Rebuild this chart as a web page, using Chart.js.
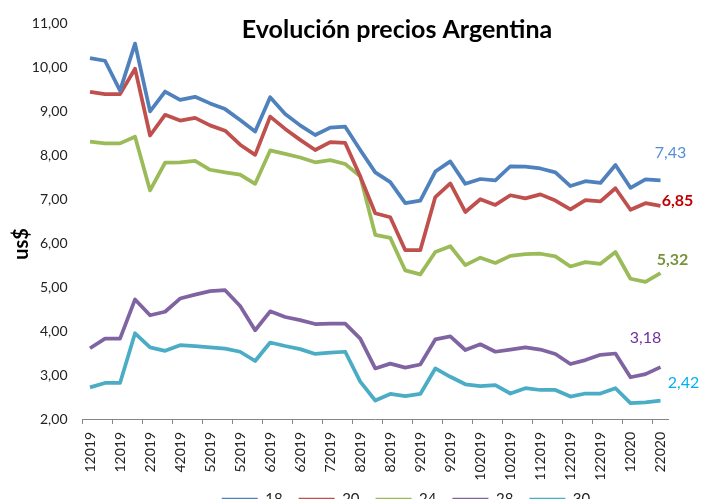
<!DOCTYPE html>
<html>
<head>
<meta charset="utf-8">
<script src="https://cdn.jsdelivr.net/npm/chart.js@4.4.1/dist/chart.umd.min.js"></script>
<style>
  html, body { margin: 0; padding: 0; background: #fff; overflow: hidden; }
  #wrap { position: relative; width: 701px; height: 522px; }
</style>
</head>
<body>
<div id="wrap"><canvas id="chart"></canvas></div>
<script>
// Category labels (only every second one is shown on the axis)
const periods = [
  '12019', '12019', '12019', '22019', '22019', '32019', '42019', '42019',
  '52019', '52019', '52019', '62019', '62019', '62019', '62019', '72019',
  '72019', '72019', '82019', '82019', '82019', '92019', '92019', '92019',
  '92019', '102019', '102019', '102019', '102019', '112019', '112019', '112019',
  '122019', '122019', '122019', '12020', '12020', '12020', '22020'
];

const seriesNames = ['18', '20', '24', '28', '30'];

const values18 = [10.21, 10.15, 9.47, 10.54, 9.00, 9.45, 9.26, 9.33, 9.18, 9.05, 8.80, 8.54, 9.32, 8.94, 8.68, 8.46, 8.63, 8.65, 8.12,
  7.61, 7.39, 6.91, 6.97, 7.63, 7.86, 7.35, 7.46, 7.43, 7.75, 7.74, 7.70, 7.61, 7.30, 7.41, 7.37, 7.78, 7.26, 7.45, 7.43];
const values20 = [9.44, 9.39, 9.39, 9.97, 8.45, 8.92, 8.79, 8.85, 8.68, 8.56, 8.24, 8.01, 8.88, 8.60, 8.35, 8.12, 8.30, 8.28, 7.52,
  6.68, 6.59, 5.84, 5.84, 7.05, 7.36, 6.71, 7.00, 6.87, 7.09, 7.02, 7.11, 6.97, 6.77, 6.98, 6.95, 7.25, 6.76, 6.91, 6.85];
const values24 = [8.31, 8.27, 8.27, 8.42, 7.20, 7.83, 7.84, 7.87, 7.67, 7.61, 7.56, 7.35, 8.11, 8.03, 7.95, 7.84, 7.89, 7.80, 7.52,
  6.19, 6.12, 5.38, 5.29, 5.80, 5.93, 5.50, 5.67, 5.55, 5.71, 5.75, 5.76, 5.70, 5.47, 5.57, 5.53, 5.80, 5.19, 5.12, 5.32];
const values28 = [3.61, 3.83, 3.83, 4.72, 4.36, 4.44, 4.74, 4.83, 4.91, 4.93, 4.57, 4.02, 4.45, 4.32, 4.25, 4.16, 4.17, 4.17, 3.83,
  3.15, 3.26, 3.17, 3.24, 3.81, 3.88, 3.57, 3.70, 3.53, 3.58, 3.63, 3.58, 3.48, 3.25, 3.34, 3.46, 3.49, 2.95, 3.02, 3.18];
const values30 = [2.72, 2.82, 2.82, 3.95, 3.63, 3.55, 3.68, 3.66, 3.63, 3.60, 3.53, 3.32, 3.74, 3.66, 3.59, 3.48, 3.51, 3.53, 2.85,
  2.42, 2.57, 2.52, 2.57, 3.15, 2.96, 2.79, 2.75, 2.77, 2.58, 2.70, 2.66, 2.66, 2.51, 2.58, 2.58, 2.70, 2.36, 2.38, 2.42];

const yTicks = [2, 3, 4, 5, 6, 7, 8, 9, 10, 11];

// Styling
const lineColors = ['#4F81BD', '#C0504D', '#9BBB59', '#8064A2', '#4BACC6'];
const endLabelStyles = [
  { color: '#558ED5', bold: false, dx: 10, dy: -27 },
  { color: '#C00000', bold: true, dx: 17, dy: -5 },
  { color: '#77933C', bold: true, dx: 12, dy: -13 },
  { color: '#7030A0', bold: false, dx: -15, dy: -29 },
  { color: '#00B0F0', bold: false, dx: 23, dy: -18 }
];
const FONT = 'Lato, "Open Sans", sans-serif';
// legend sits right of centre and tucked under the axis labels in the original
const LEGEND_SHIFT_X = 72;
const LEGEND_SHIFT_Y = -5;

const allValues = [values18, values20, values24, values28, values30];

function fmt(v) {
  return v.toFixed(2).replace('.', ',');
}

// Draws the title, the y axis title and the last-value labels
const extraText = {
  id: 'extraText',
  afterLayout(chart) {
    const lg = chart.legend;
    if (lg) {
      lg.left += LEGEND_SHIFT_X;
      lg.right += LEGEND_SHIFT_X;
      lg.top += LEGEND_SHIFT_Y;
      lg.bottom += LEGEND_SHIFT_Y;
    }
  },
  afterDatasetsDraw(chart) {
    const ctx = chart.ctx;
    ctx.save();
    ctx.fillStyle = '#000';
    ctx.font = 'bold 25px ' + FONT;
    ctx.textAlign = 'center';
    ctx.textBaseline = 'middle';
    ctx.fillText('Evolución precios Argentina', 397, 30);

    ctx.save();
    ctx.translate(22, 244);
    ctx.rotate(-Math.PI / 2);
    ctx.font = 'bold 20px ' + FONT;
    ctx.fillText('us$', 0, 0);
    ctx.restore();

    chart.data.datasets.forEach((ds, i) => {
      const meta = chart.getDatasetMeta(i);
      const last = meta.data[meta.data.length - 1];
      const st = endLabelStyles[i];
      ctx.fillStyle = st.color;
      ctx.font = (st.bold ? 'bold ' : '') + '16px ' + FONT;
      ctx.fillText(fmt(ds.data[ds.data.length - 1]), last.x + st.dx, last.y + st.dy);
    });
    ctx.restore();
  }
};

const datasets = seriesNames.map((name, i) => ({
  label: name,
  data: allValues[i],
  borderColor: lineColors[i],
  backgroundColor: lineColors[i],
  borderWidth: 3.75,
  pointRadius: 0,
  pointHoverRadius: 0,
  tension: 0,
  borderJoinStyle: 'round',
  fill: false
}));

new Chart(document.getElementById('chart'), {
  type: 'line',
  data: { labels: periods, datasets: datasets },
  plugins: [extraText],
  options: {
    responsive: true,
    maintainAspectRatio: false,
    animation: false,
    layout: { padding: { left: 0, right: 33, top: 22, bottom: 0 } },
    plugins: {
      title: { display: false },
      tooltip: { enabled: false },
      legend: {
        position: 'bottom',
        labels: {
          usePointStyle: true,
          pointStyle: 'line',
          pointStyleWidth: 36,
          padding: 16,
          color: '#222',
          font: { family: FONT, size: 15 }
        }
      }
    },
    scales: {
      x: {
        offset: true,
        grid: {
          offset: true,
          display: true,
          drawOnChartArea: false,
          drawTicks: true,
          tickLength: 5,
          color: (c) => (c.index % 2 === 0 ? '#868686' : 'rgba(0,0,0,0)')
        },
        border: { display: true, color: '#868686', width: 1 },
        ticks: {
          autoSkip: false,
          minRotation: 90,
          maxRotation: 90,
          padding: 8,
          color: '#222',
          font: { family: FONT, size: 14 },
          callback: (v, i) => (i % 2 === 0 ? periods[i] : '')
        },
        afterFit: (s) => { s.height = 62; }
      },
      y: {
        min: yTicks[0],
        max: yTicks[yTicks.length - 1],
        grid: { display: false, drawTicks: false },
        border: { display: false },
        afterBuildTicks: (s) => { s.ticks = yTicks.map(v => ({ value: v })); },
        ticks: {
          padding: 15,
          color: '#222',
          font: { family: FONT, size: 14 },
          callback: (v) => fmt(v)
        },
        afterFit: (s) => { s.width = 82.5; }
      }
    }
  }
});
</script>
</body>
</html>
